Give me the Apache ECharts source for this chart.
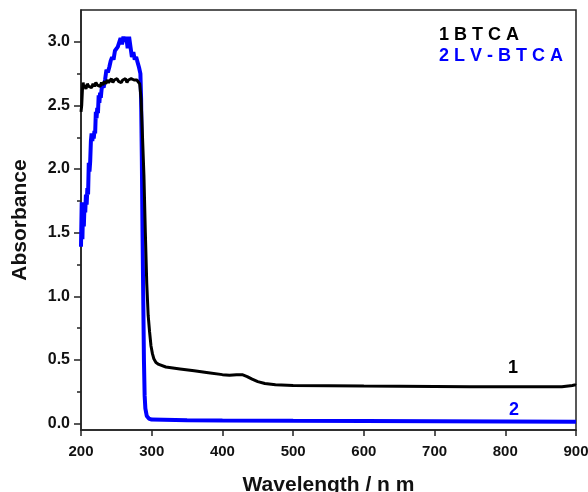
<!DOCTYPE html>
<html>
<head>
<meta charset="utf-8">
<script src="https://cdn.jsdelivr.net/npm/echarts@6/dist/echarts.min.js"></script>
<style>html,body{margin:0;padding:0;background:#fff;}#c{width:588px;height:492px;}</style>
</head>
<body>
<div id="c"></div>
<script>
// ---- data ----
var xTicks = [200, 300, 400, 500, 600, 700, 800, 900];
var yTickLabels = [0, 0.5, 1.0, 1.5, 2.0, 2.5, 3.0];
var yMinorTicks = [0.25, 0.75, 1.25, 1.75, 2.25, 2.75];

var btcaWavelength = [200,201,202,203,204,205,207,209,211,213,215,217,219,221,223,225,227,229,231,233,235,237,239,241,243,245,247,249,251,253,255,257,259,261,263,265,267,269,271,273,275,277,279,281,283,285,287,289,291,293,295,297,299,301,303,306,310,320,340,360,380,400,410,420,428,435,442,450,460,475,500,550,600,650,700,750,800,850,880,895,898,900];
var btcaAbsorbance = [2.45,2.50,2.62,2.68,2.64,2.66,2.63,2.67,2.65,2.66,2.64,2.67,2.65,2.68,2.66,2.67,2.65,2.68,2.66,2.69,2.67,2.70,2.68,2.69,2.71,2.68,2.70,2.69,2.71,2.69,2.70,2.68,2.70,2.69,2.71,2.68,2.70,2.69,2.71,2.70,2.70,2.69,2.70,2.69,2.67,2.55,2.25,1.95,1.50,1.10,0.85,0.72,0.61,0.55,0.51,0.48,0.465,0.445,0.43,0.415,0.40,0.385,0.38,0.385,0.385,0.37,0.35,0.33,0.315,0.305,0.30,0.298,0.295,0.294,0.292,0.29,0.29,0.29,0.29,0.30,0.305,0.30];

var lvWavelength = [200,201,202,203,204,205,206,207,208,209,210,211,212,213,214,215,216,217,218,219,220,221,222,223,224,225,226,227,228,229,230,232,234,236,238,240,242,244,246,248,250,252,254,256,258,260,262,264,266,268,270,272,274,276,278,280,282,284,285,286,287,288,289,290,291,293,296,300,350,400,500,600,700,800,900];
var lvAbsorbance = [1.39,1.74,1.45,1.72,1.55,1.72,1.66,1.80,1.72,1.85,1.80,2.05,1.98,2.06,2.22,2.28,2.22,2.28,2.24,2.30,2.28,2.45,2.40,2.48,2.44,2.58,2.52,2.60,2.56,2.62,2.66,2.64,2.70,2.78,2.76,2.80,2.85,2.88,2.86,2.93,2.92,2.96,2.95,3.03,2.98,3.04,3.00,3.04,2.95,3.04,2.96,2.88,2.92,2.86,2.88,2.84,2.80,2.75,2.55,2.10,1.50,1.00,0.50,0.22,0.12,0.06,0.04,0.032,0.027,0.025,0.022,0.020,0.018,0.016,0.015];

var legendLines = ['1 B T C A', '2 L V - B T C A'];
var seriesTags = ['1', '2'];
var seriesColors = ['#000000', '#0000ff'];

function pairs(xs, ys) { return xs.map(function (x, i) { return [x, ys[i]]; }); }

var FONT = '"Liberation Sans", Arial, sans-serif';
var chart = echarts.init(document.getElementById('c'));
chart.setOption({
  backgroundColor: '#ffffff',
  animation: false,
  grid: { left: 81, right: 12, top: 10, bottom: 62, show: true, borderColor: '#222', borderWidth: 1.5, backgroundColor: 'transparent',
          containLabel: false, outerBoundsMode: 'none' },
  xAxis: {
    type: 'value', min: 200, max: 900, interval: 100,
    name: 'Wavelength / n m', nameLocation: 'middle', nameGap: 45,
    nameTextStyle: { fontFamily: FONT, fontWeight: 'bold', fontSize: 21, color: '#111' },
    axisLine: { show: true, onZero: false, lineStyle: { color: '#222', width: 1.5 } },
    axisTick: { show: true, inside: false, length: 6, lineStyle: { color: '#222', width: 1.5 } },
    axisLabel: { fontFamily: FONT, fontWeight: 'bold', fontSize: 15, color: '#111', margin: 14 },
    splitLine: { show: false }
  },
  yAxis: [{
    type: 'value', min: -0.05, max: 3.25,
    name: 'Absorbance', nameLocation: 'middle', nameGap: 50, nameRotate: 90,
    nameTextStyle: { fontFamily: FONT, fontWeight: 'bold', fontSize: 21, color: '#111' },
    axisLine: { show: true, onZero: false, lineStyle: { color: '#222', width: 1.5 } },
    axisTick: { show: true, inside: false, length: 7, customValues: yTickLabels, lineStyle: { color: '#222', width: 1.5 } },
    axisLabel: { fontFamily: FONT, fontWeight: 'bold', fontSize: 16, color: '#111', margin: 11, customValues: yTickLabels,
      formatter: function (v) { return v.toFixed(1); } },
    splitLine: { show: false }
  }, {
    type: 'value', min: -0.05, max: 3.25, position: 'left',
    axisLine: { show: false },
    axisTick: { show: true, inside: false, length: 4, customValues: yMinorTicks, lineStyle: { color: '#222', width: 1.5 } },
    axisLabel: { show: false },
    splitLine: { show: false }
  }],
  series: [{
    name: 'LV-BTCA', type: 'line', data: pairs(lvWavelength, lvAbsorbance), showSymbol: false, symbol: 'none',
    lineStyle: { color: seriesColors[1], width: 4 }, z: 2
  }, {
    name: 'BTCA', type: 'line', data: pairs(btcaWavelength, btcaAbsorbance), showSymbol: false, symbol: 'none',
    lineStyle: { color: seriesColors[0], width: 3 }, z: 3
  }],
  graphic: [
    { type: 'text', left: 439, top: 26, style: { text: legendLines[0], fill: seriesColors[0], font: 'bold 18px ' + FONT } },
    { type: 'text', left: 439, top: 47, style: { text: legendLines[1], fill: seriesColors[1], font: 'bold 18px ' + FONT } },
    { type: 'text', left: 508, top: 359, style: { text: seriesTags[0], fill: seriesColors[0], font: 'bold 18px ' + FONT } },
    { type: 'text', left: 509, top: 401, style: { text: seriesTags[1], fill: seriesColors[1], font: 'bold 18px ' + FONT } }
  ]
});
</script>
</body>
</html>
